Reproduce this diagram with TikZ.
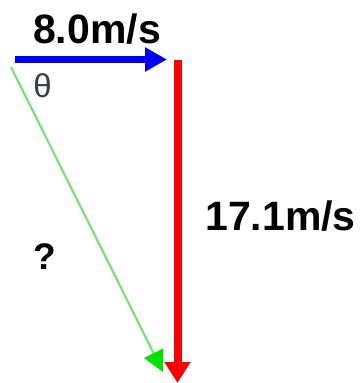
\documentclass[tikz,border=0pt]{standalone}
\usepackage{fontspec}
\setmainfont{Liberation Sans}
\usetikzlibrary{arrows.meta}
\definecolor{vblue}{RGB}{0,0,245}
\definecolor{vred}{RGB}{250,0,0}
\definecolor{gline}{RGB}{120,225,120}
\definecolor{ghead}{RGB}{0,225,0}
\definecolor{thcol}{RGB}{55,60,75}
\tikzset{
  lbl/.style={inner sep=0pt, anchor=base, font=\fontsize{41}{41}\selectfont\bfseries},
}
\begin{document}
\begin{tikzpicture}[x=1pt,y=-1pt]
\useasboundingbox (0,0) rectangle (360,383);
\coordinate (A) at (15,59.5);
\coordinate (B) at (167,59.5);
\coordinate (C) at (177.5,60);
\coordinate (D) at (177.5,383);
\coordinate (E) at (11,67);
\coordinate (F) at (163,372);
\draw[vred, line width=8pt, -{Triangle[length=21pt,width=25pt]}] (C) -- (D);
\draw[gline, line width=2.2pt, -{Triangle[length=21pt,width=21pt,color=ghead]}] (E) -- (F);
\draw[vblue, line width=7pt, -{Triangle[length=22pt,width=23pt]}] (A) -- (B);
\node[lbl] (v1) at (97,43) {8.0m/s};
\node[lbl] (v2) at (280.5,230) {17.1m/s};
\node[inner sep=0pt, anchor=base, font=\fontsize{37}{37}\selectfont\bfseries] (q) at (45,269) {?};
\node[inner sep=0pt, anchor=base, text=thcol, font=\fontsize{33}{33}\selectfont] (th) at (42.5,97) {θ};
\end{tikzpicture}
\end{document}
